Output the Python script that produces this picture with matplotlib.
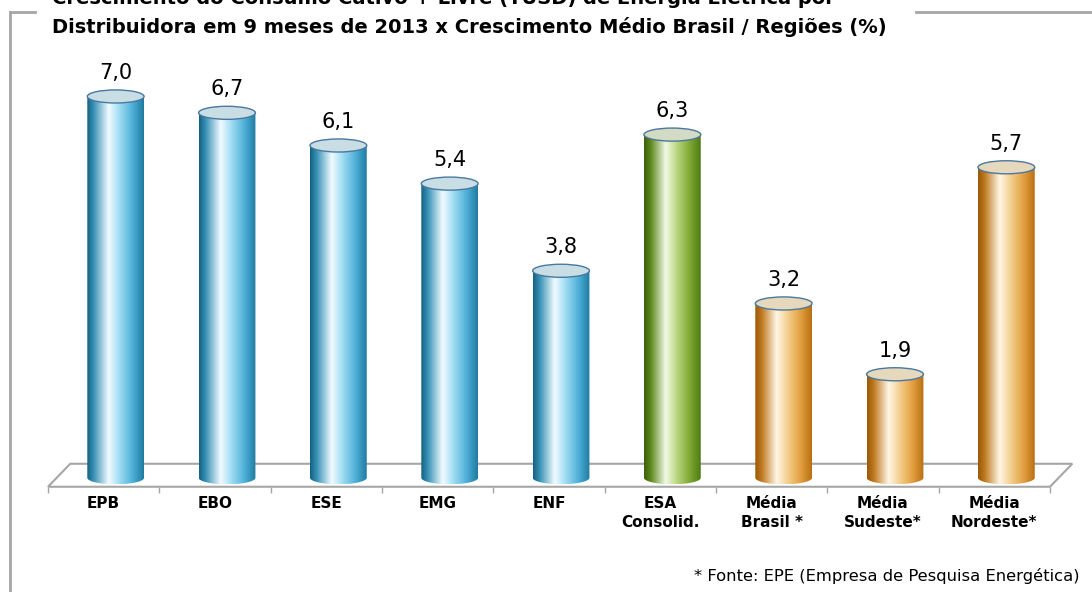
import numpy as np
import matplotlib
matplotlib.use('Agg')
import matplotlib.pyplot as plt
from matplotlib.colors import LinearSegmentedColormap
from matplotlib.patches import Ellipse, Polygon
from matplotlib.path import Path

# --- Data ---
categories = ['EPB', 'EBO', 'ESE', 'EMG', 'ENF', 'ESA\nConsolid.',
              'Média\nBrasil *', 'Média\nSudeste*', 'Média\nNordeste*']
values = [7.0, 6.7, 6.1, 5.4, 3.8, 6.3, 3.2, 1.9, 5.7]
groups = ['dist', 'dist', 'dist', 'dist', 'dist', 'consol', 'media', 'media', 'media']

title_1 = 'Crescimento do Consumo Cativo + Livre (TUSD) de Energia Elétrica por'
title_2 = 'Distribuidora em 9 meses de 2013 x Crescimento Médio Brasil / Regiões (%)'
source = '* Fonte: EPE (Empresa de Pesquisa Energética)'

# --- Cylinder styles ---
stops = [0.0, 0.12, 0.38, 0.55, 0.8, 1.0]
cmaps = {
    'dist': LinearSegmentedColormap.from_list('b', list(zip(stops, ['#15607f', '#3a93b8', '#f2fbff', '#a8e0f5', '#4fb0d8', '#1f7aa0']))),
    'consol': LinearSegmentedColormap.from_list('g', list(zip(stops, ['#3d5e0a', '#5f8a1e', '#f2f9e6', '#c2dc8e', '#7faa34', '#4f7a12']))),
    'media': LinearSegmentedColormap.from_list('o', list(zip(stops, ['#9a5808', '#c07a20', '#fff6e6', '#f5d49a', '#e3a040', '#b86f12']))),
}
top_colors = {'dist': '#c9dde4', 'consol': '#d3dbc4', 'media': '#e6d8bc'}

plt.rcParams['font.family'] = ['DejaVu Sans']
fig = plt.figure(figsize=(10.92, 5.92), dpi=100)
ax = fig.add_axes([48 / 1092, 87 / 592, 1002 / 1092, 463 / 592])

x = np.arange(len(categories))
shift = 0.108      # bars sit deeper on the 3D floor
width = 0.51
eh = 0.24          # ellipse height (data units)

bars = ax.bar(x + shift, values, width=width, color='none', zorder=3)
grad = np.linspace(0, 1, 256).reshape(1, -1)
for b, v, g in zip(bars, values, groups):
    x0 = b.get_x()
    x1 = x0 + b.get_width()
    xc = (x0 + x1) / 2
    t = np.linspace(np.pi, 2 * np.pi, 60)
    verts = [(x0, v)] + list(zip(xc + (x1 - x0) / 2 * np.cos(t), eh / 2 * np.sin(t))) + [(x1, v), (x0, v)]
    path = Path(verts, closed=True)
    im = ax.imshow(grad, cmap=cmaps[g], extent=(x0, x1, -eh / 2, v), aspect='auto',
                   interpolation='bicubic', zorder=3)
    im.set_clip_path(path, ax.transData)
    ax.add_patch(Ellipse((xc, v), x1 - x0, eh, facecolor=top_colors[g],
                         edgecolor='#4a78a0', lw=1.0, zorder=4))
    ax.annotate(f'{v:.1f}'.replace('.', ','), (xc, v), xytext=(0, 17), textcoords='offset points',
                ha='center', va='center', fontsize=15)

# --- 3D floor ---
yf, yb, dx = -0.165, 0.257, 0.2
floor = Polygon([(-0.5, yf), (8.5, yf), (8.5 + dx, yb), (-0.5 + dx, yb)], closed=True,
                facecolor='white', edgecolor='#a6a6a6', lw=1.5, zorder=1, clip_on=False)
ax.add_patch(floor)

ax.set_xlim(-0.5, 8.5)
ax.set_ylim(-0.5, 8)
for s in ax.spines.values():
    s.set_visible(False)
ax.spines['bottom'].set_position(('data', yf))
ax.set_yticks([])
ax.set_xticks(x)
ax.set_xticklabels(categories, fontsize=11, fontweight='bold', linespacing=1.3)
ax.tick_params(axis='x', which='major', length=0, pad=7)
ax.set_xticks(np.arange(-0.5, 9, 1.0), minor=True)
ax.tick_params(axis='x', which='minor', length=4, width=1, color='#a6a6a6')

# --- Frame and titles ---
frame_c = '#a6a6a6'
fig.add_artist(plt.Line2D([10 / 1092, 10 / 1092], [0, 1 - 12 / 592], color=frame_c, lw=2))
fig.add_artist(plt.Line2D([10 / 1092, 35 / 1092], [1 - 12 / 592, 1 - 12 / 592], color=frame_c, lw=2))
fig.add_artist(plt.Line2D([916 / 1092, 1], [1 - 12 / 592, 1 - 12 / 592], color=frame_c, lw=2))
fig.text(52 / 1092, 1 - 4 / 592, title_1, fontsize=14, fontweight='bold', va='baseline', ha='left')
fig.text(52 / 1092, 1 - 33 / 592, title_2, fontsize=14, fontweight='bold', va='baseline', ha='left')
fig.text(1080 / 1092, 1 - 576 / 592, source, fontsize=11.8, ha='right', va='center')

fig.savefig('out.png', dpi=100)
